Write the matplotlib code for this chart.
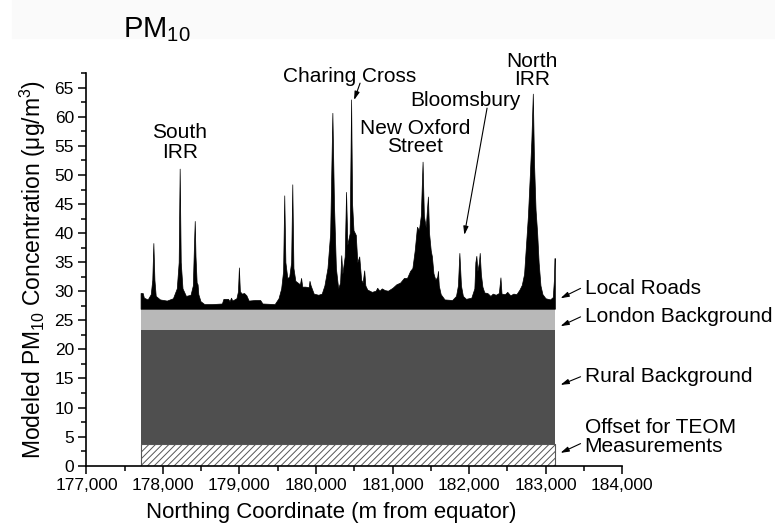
import matplotlib
matplotlib.use("Agg")
import matplotlib.pyplot as plt
from matplotlib.ticker import MultipleLocator, FuncFormatter
from matplotlib.patches import Rectangle

plt.rcParams['font.family'] = ['Liberation Sans', 'DejaVu Sans']
plt.rcParams['mathtext.fontset'] = 'custom'
plt.rcParams['mathtext.rm'] = 'Liberation Sans'
plt.rcParams['mathtext.it'] = 'Liberation Sans:italic'
plt.rcParams['hatch.linewidth'] = 0.7

# stacked background layers (thickness, ug/m3) over the modelled transect
layer_x = [177707, 183122]
teom_offset = 3.7
rural_bg = 19.7
london_bg = 3.6

# local roads contribution (total concentration read along the transect)
road_x = [177707, 177735, 177750, 177800, 177840, 177860, 177874, 177888, 177905, 177960,
          178050, 178130, 178180, 178205, 178218, 178232, 178255, 178300, 178360, 178390,
          178405, 178415, 178425, 178440, 178452, 178462, 178490, 178540, 178640, 178770,
          178790, 178850, 178870, 178890, 178905, 178960, 178980, 178992, 179005, 179030,
          179060, 179090, 179120, 179200, 179270, 179300, 179460, 179510, 179545, 179570,
          179585, 179600, 179625, 179650, 179675, 179690, 179705, 179730, 179790, 179805,
          179820, 179860, 179905, 179915, 179930, 179970, 180030, 180075, 180110, 180150,
          180185, 180214, 180235, 180260, 180290, 180315, 180330, 180345, 180375, 180393,
          180410, 180440, 180459, 180472, 180490, 180520, 180540, 180565, 180590, 180610,
          180630, 180645, 180670, 180730, 180780, 180800, 180830, 180860, 180900, 180940,
          181000, 181050, 181100, 181150, 181190, 181230, 181260, 181290, 181320, 181345,
          181370, 181393, 181410, 181435, 181450, 181463, 181478, 181500, 181515, 181535,
          181560, 181585, 181594, 181605, 181630, 181680, 181780, 181830, 181855, 181874,
          181895, 181920, 181960, 182030, 182070, 182083, 182096, 182110, 182130, 182140,
          182155, 182175, 182200, 182240, 182280, 182310, 182350, 182390, 182411, 182425,
          182470, 182500, 182540, 182580, 182620, 182660, 182690, 182720, 182745, 182770,
          182795, 182815, 182834, 182850, 182870, 182891, 182910, 182934, 182960, 183000,
          183060, 183095, 183110, 183117, 183122]
road_y = [29.7, 29.7, 28.9, 28.6, 29.5, 32.0, 38.3, 32.0, 29.2, 28.6,
          28.4, 28.8, 30.5, 35.0, 51.1, 35.0, 30.5, 29.2, 29.4, 31.0,
          38.0, 42.1, 36.0, 31.5, 31.2, 29.5, 28.3, 27.8, 27.8, 27.9,
          28.7, 28.7, 28.3, 28.9, 28.4, 28.8, 30.0, 34.1, 30.0, 29.6,
          29.7, 29.3, 28.4, 28.5, 28.5, 27.9, 27.8, 28.8, 30.5, 33.5,
          46.5, 35.0, 32.3, 32.5, 35.0, 48.4, 34.0, 31.8, 31.2, 32.3,
          30.8, 30.8, 30.7, 31.8, 31.0, 29.6, 29.4, 29.6, 31.0, 34.0,
          40.0, 60.7, 45.0, 34.0, 30.5, 31.5, 36.2, 33.0, 36.0, 47.1,
          38.0, 40.0, 63.0, 45.0, 40.5, 39.7, 35.0, 36.0, 32.0, 31.5,
          33.6, 31.0, 30.3, 29.9, 30.1, 30.6, 30.1, 30.5, 30.2, 30.1,
          30.6, 31.2, 31.5, 32.3, 32.3, 33.5, 34.0, 37.0, 41.1, 40.5,
          43.0, 52.3, 43.0, 41.0, 44.0, 46.3, 40.0, 37.0, 36.0, 33.1,
          32.0, 32.5, 33.5, 31.0, 29.5, 28.6, 28.5, 29.2, 31.0, 36.6,
          31.0, 29.2, 28.7, 28.9, 30.5, 35.0, 36.1, 33.5, 35.0, 36.6,
          33.0, 30.8, 29.8, 29.7, 29.2, 29.6, 29.4, 29.7, 32.4, 29.6,
          29.5, 29.9, 29.3, 29.6, 29.5, 30.3, 31.1, 33.0, 38.0, 43.0,
          50.0, 56.0, 64.0, 52.0, 44.0, 40.0, 35.0, 31.0, 29.5, 28.8,
          28.6, 29.0, 32.0, 35.7, 35.7]

teom_top = teom_offset
rural_top = teom_top + rural_bg
london_top = rural_top + london_bg

fig = plt.figure(figsize=(7.75, 5.31), dpi=100)
fig.patches.append(Rectangle((12 / 775, 1 - 38 / 531), 1, 38 / 531,
                             transform=fig.transFigure, color='#fafafa', zorder=0))
ax = fig.add_axes([0.1116, 0.123, 0.6910, 0.739])

ax.fill_between(layer_x, 0, teom_top, facecolor='white', edgecolor='#555555',
                hatch='/////', lw=0.8)
ax.fill_between(layer_x, teom_top, rural_top, color='#4f4f4f', lw=0)
ax.fill_between(layer_x, rural_top, london_top, color='#b8b8b8', lw=0)
ax.fill_between(road_x, london_top, road_y, color='black', lw=0.5)

ax.set_xlim(177000, 184000)
ax.set_ylim(0, 67.5)
ax.xaxis.set_major_locator(MultipleLocator(1000))
ax.xaxis.set_minor_locator(MultipleLocator(500))
ax.yaxis.set_major_locator(MultipleLocator(5))
ax.yaxis.set_minor_locator(MultipleLocator(2.5))
ax.xaxis.set_major_formatter(FuncFormatter(lambda v, p: f'{v:,.0f}'))
ax.tick_params(which='major', length=6, width=1.1, labelsize=12.5, pad=3)
ax.tick_params(which='minor', length=3.5, width=1.1)
for s in ['top', 'right']:
    ax.spines[s].set_visible(False)
for s in ['left', 'bottom']:
    ax.spines[s].set_linewidth(1.2)

ax.set_ylabel('Modeled PM$_{10}$ Concentration (\u03bcg/m$^3$)', fontsize=16.5, labelpad=5)
fig.text(0.427, 0.035, 'Northing Coordinate (m from equator)', fontsize=16,
         ha='center', va='center')
fig.text(0.159, 1 - 30 / 531, 'PM$_{10}$', fontsize=21, ha='left', va='center')

fs = 15
ax.text(178218, 55.6, 'South\nIRR', fontsize=fs, ha='center', va='center', linespacing=1.05)
ax.text(180439, 67.0, 'Charing Cross', fontsize=fs, ha='center', va='center')
ax.text(181297, 56.5, 'New Oxford\nStreet', fontsize=fs, ha='center', va='center', linespacing=0.95)
ax.text(181952, 62.9, 'Bloomsbury', fontsize=fs, ha='center', va='center')
ax.text(182826, 68.0, 'North\nIRR', fontsize=fs, ha='center', va='center', linespacing=0.95)

arrow = dict(arrowstyle='-|>,head_length=0.5,head_width=0.15', color='black', lw=0.8,
             shrinkA=0, shrinkB=0)
ax.annotate('', xy=(180498, 62.9), xytext=(180576, 65.8), arrowprops=arrow)
ax.annotate('', xy=(181939, 39.7), xytext=(182236, 61.5), arrowprops=arrow)

side_labels = ['Local Roads', 'London Background', 'Rural Background',
               'Offset for TEOM\nMeasurements']
side_y = [30.5, 25.6, 15.3, 4.9]
side_head = [28.8, 24.0, 13.9, 2.2]
side_tail = [30.5, 25.6, 15.3, 3.8]
for lab, ty, hy, ay in zip(side_labels, side_y, side_head, side_tail):
    ax.text(183511, ty, lab, fontsize=fs, ha='left', va='center', linespacing=1.0,
            clip_on=False)
    ax.annotate('', xy=(183196, hy), xytext=(183458, ay), arrowprops=arrow,
                annotation_clip=False)

fig.savefig('out.png', dpi=100)
